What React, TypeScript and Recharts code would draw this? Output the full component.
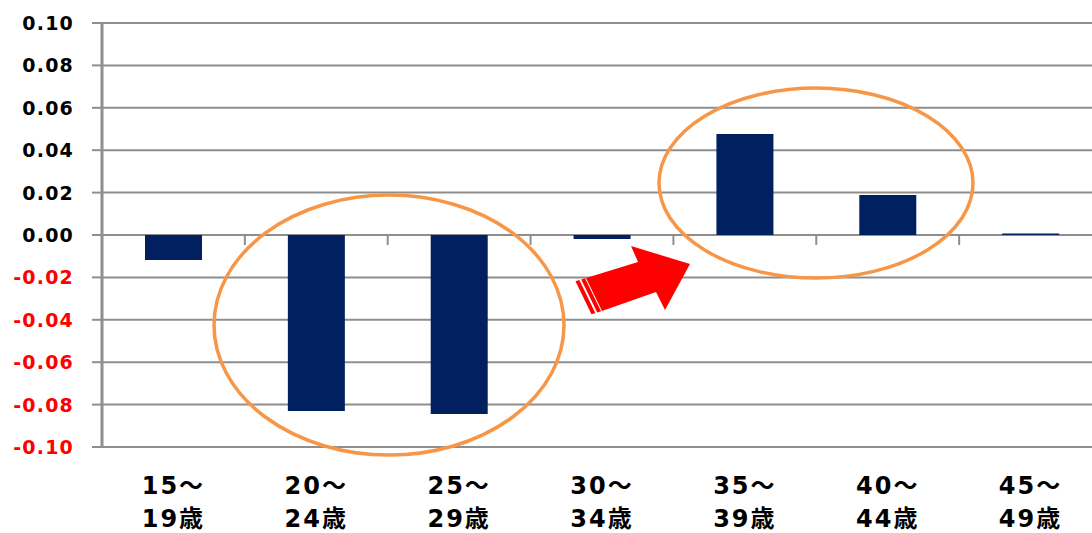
import React from "react";
import { BarChart, Bar, XAxis, YAxis, CartesianGrid } from "recharts";

const categories = ["15～\n19歳", "20～\n24歳", "25～\n29歳", "30～\n34歳", "35～\n39歳", "40～\n44歳", "45～\n49歳"];
const values = [-0.0118, -0.083, -0.0844, -0.0019, 0.0476, 0.0189, 0.0007];
const yTicks = [-0.1, -0.08, -0.06, -0.04, -0.02, 0, 0.02, 0.04, 0.06, 0.08, 0.1];

const data = categories.map((c, i) => ({ name: c, value: values[i] }));

const W = 1092;
const CW = 1102; // plot runs a little past the right edge, as in the original
const H = 533;
const LEFT = 102;
const TOP = 23;
const BOTTOM = 86;
const plotW = CW - LEFT;
const plotH = H - TOP - BOTTOM;
const band = plotW / categories.length;
const yPx = (v: number) => TOP + ((0.1 - v) / 0.2) * plotH;
const xBoundary = (i: number) => LEFT + i * band;

const font = "'DejaVu Sans', Verdana, 'Noto Sans CJK JP', sans-serif";

const YTick = (props: any) => {
  const { x, y, payload } = props;
  const v = payload.value as number;
  return (
    <text
      x={x}
      y={y}
      dy={7}
      textAnchor="end"
      fontFamily={font}
      fontWeight="bold"
      fontSize={19}
      letterSpacing={1.2}
      fill={v < 0 ? "#FF0000" : "#000000"}
    >
      {v.toFixed(2)}
    </text>
  );
};

const XTick = (props: any) => {
  const { x, payload } = props;
  const [l1, l2] = String(payload.value).split("\n");
  return (
    <text
      x={x}
      textAnchor="middle"
      fontFamily={font}
      fontWeight="bold"
      fontSize={24}
      letterSpacing={2}
      fill="#000000"
    >
      <tspan x={x} y={494}>{l1}</tspan>
      <tspan x={x} y={527}>{l2}</tspan>
    </text>
  );
};

const Overlay = () => {
  const zero = yPx(0);
  const e1 = { cx: 389, cy: yPx(-0.0425), rx: 175, ry: 130 };
  const e2 = { cx: 816, cy: yPx(0.0245), rx: 157, ry: 95 };
  const body = "586,278 638,262 631,246 690,264 665,310 656,292 602,311";
  const stripe = (o: number, w: number) => {
    const ux = 0.955;
    const uy = -0.294;
    const a = [586 - ux * o, 278 - uy * o];
    const b = [586 - ux * (o - w), 278 - uy * (o - w)];
    const c = [602 - ux * (o - w), 311 - uy * (o - w)];
    const d = [602 - ux * o, 311 - uy * o];
    return [a, b, c, d].map((p) => p.join(",")).join(" ");
  };
  return (
    <svg
      width={W}
      height={H}
      style={{ position: "absolute", left: 0, top: 0, pointerEvents: "none" }}
    >
      {categories.slice(1).map((_, i) => (
        <line
          key={i}
          x1={xBoundary(i + 1)}
          x2={xBoundary(i + 1)}
          y1={zero}
          y2={zero + 10}
          stroke="#8E8E8E"
          strokeWidth={2}
        />
      ))}
      <ellipse {...e1} fill="none" stroke="#F79646" strokeWidth={3.5} />
      <ellipse {...e2} fill="none" stroke="#F79646" strokeWidth={3.5} />
      <polygon points={body} fill="#FF0000" />
      <polygon points={stripe(5, 4)} fill="#FF0000" />
      <polygon points={stripe(11, 4)} fill="#FF0000" />
    </svg>
  );
};

export default function App() {
  return (
    <div style={{ position: "relative", width: W, height: H, overflow: "hidden" }}>
      <style>{`body{margin:0}`}</style>
      <BarChart
        width={CW}
        height={H}
        data={data}
        margin={{ top: TOP, right: 0, bottom: 0, left: 0 }}
      >
        <CartesianGrid vertical={false} stroke="#8E8E8E" strokeWidth={2} />
        <XAxis
          dataKey="name"
          height={BOTTOM}
          axisLine={false}
          tickLine={false}
          interval={0}
          tick={<XTick />}
        />
        <YAxis
          width={LEFT}
          domain={[-0.1, 0.1]}
          ticks={yTicks}
          interval={0}
          tickSize={10}
          tickMargin={18}
          axisLine={{ stroke: "#8E8E8E", strokeWidth: 3 }}
          tickLine={{ stroke: "#8E8E8E", strokeWidth: 2 }}
          tick={<YTick />}
        />
        <Bar dataKey="value" fill="#002060" barSize={57} isAnimationActive={false} />
      </BarChart>
      <Overlay />
    </div>
  );
}
